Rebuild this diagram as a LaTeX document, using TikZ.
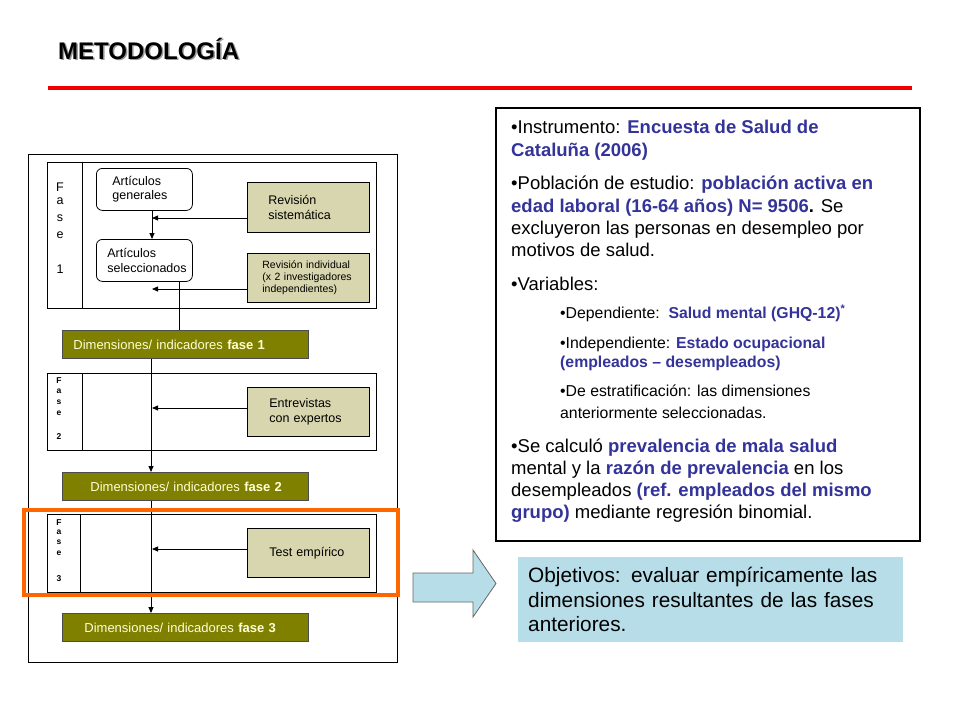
\documentclass[tikz,border=0pt]{standalone}
\usepackage{fontspec}
\setmainfont{Liberation Sans}
\usetikzlibrary{arrows.meta}
\definecolor{txtblue}{RGB}{51,51,153}
\definecolor{olivebox}{RGB}{128,128,0}
\definecolor{khaki}{RGB}{216,214,174}
\definecolor{creamtxt}{RGB}{255,255,214}
\definecolor{lightcyan}{RGB}{183,221,232}
\definecolor{orangeframe}{RGB}{255,102,0}
\definecolor{redline}{RGB}{240,0,0}
\newcommand\bl[1]{{\bfseries\color{txtblue}#1}}
\tikzset{
  arr/.style={-{Triangle[length=6pt,width=5pt]}, line width=0.8pt},
  plain/.style={line width=0.8pt},
  phasebox/.style={draw, line width=0.8pt, anchor=north west, inner sep=0pt},
  kbox/.style={draw, fill=khaki, line width=0.8pt, anchor=north west, inner xsep=0pt, inner ysep=0pt, align=left, font=\fontsize{12.5}{14.5}\selectfont},
  rbox/.style={draw, rounded corners=6pt, fill=white, line width=0.8pt, anchor=north west, inner xsep=0pt, inner ysep=0pt, align=left, font=\fontsize{12.5}{14.5}\selectfont},
  dimbox/.style={draw=black!70, fill=olivebox, line width=0.8pt, anchor=north west, minimum width=246pt, minimum height=28pt, text width=246pt, inner xsep=0pt, inner ysep=0pt, align=left, text=creamtxt, font=\fontsize{13}{15}\selectfont},
  phl/.style={inner sep=0pt, font=\fontsize{12.5}{12.5}\selectfont},
  phs/.style={inner sep=0pt, font=\fontsize{8.5}{8.5}\bfseries},
  tl/.style={anchor=base west, inner sep=0pt, font=\fontsize{18.5}{21}\selectfont},
  ts/.style={anchor=base west, inner sep=0pt, font=\fontsize{15.8}{18}\selectfont},
}
\begin{document}
\begin{tikzpicture}[x=1pt,y=-1pt]
\useasboundingbox (0,0) rectangle (960,720);

% title
\node[anchor=base west, inner sep=0pt, text=black!40, font=\fontsize{24}{24}\selectfont\bfseries] (titleshadow) at (59.5,60.5) {METODOLOGÍA};
\node[anchor=base west, inner sep=0pt, font=\fontsize{24}{24}\selectfont\bfseries] (title) at (58,59) {METODOLOGÍA};
\draw[redline, line width=4pt] (48,88) -- (912,88);

% left frame
\node[phasebox, minimum width=369pt, minimum height=508pt] (frame) at (28,154) {};

% phase 1
\node[phasebox, minimum width=329pt, minimum height=146pt] (p1) at (47,162) {};
\draw[plain] (82,162) -- (82,308);
\foreach \t/\yy [count=\i] in {F/187,a/201,s/218,e/235,1/269}
  \node[phl] (p1l\i) at (60,\yy) {\t};

\node[rbox, minimum width=96pt, minimum height=42pt, text width=96pt] (gen) at (96,168) {\hspace*{16pt}Artículos\\\hspace*{16pt}generales};
\node[rbox, minimum width=96pt, minimum height=42pt, text width=96pt] (sel) at (96,239) {\hspace*{11pt}Artículos\\\hspace*{11pt}seleccionados};
\node[kbox, minimum width=122pt, minimum height=50pt, text width=122pt] (rs) at (247,182) {\hspace*{21pt}Revisión\\\hspace*{21pt}sistemática};
\node[kbox, minimum width=122pt, minimum height=49pt, text width=122pt, font=\fontsize{10.5}{12}\selectfont] (ri) at (247,253) {\hspace*{15pt}Revisión individual\\\hspace*{15pt}(x 2 investigadores\\\hspace*{15pt}independientes)};

\coordinate (a1) at (152,218);
\coordinate (a2) at (152,289);
\draw[arr] (gen.south -| a1) -- (sel.north -| a1);
\draw[arr] (rs.west |- a1) -- (a1);
\draw[arr] (ri.west |- a2) -- (a2);

\node[dimbox] (dim1) at (62,330) {\hspace*{11pt}Dimensiones/ indicadores \textbf{fase 1}};
\coordinate (s1) at (179,0);
\draw[plain] (sel.south -| s1) -- (dim1.north -| s1);

% phase 2
\node[phasebox, minimum width=329pt, minimum height=77pt] (p2) at (47,373) {};
\draw[plain] (82,373) -- (82,450);
\foreach \t/\yy [count=\i] in {F/381,a/391,s/402,e/413,2/437}
  \node[phs] (p2l\i) at (59,\yy) {\t};
\node[kbox, minimum width=122pt, minimum height=49pt, text width=122pt] (ent) at (247,387) {\hspace*{22pt}Entrevistas\\\hspace*{22pt}con expertos};
\coordinate (a3) at (152,408);
\draw[arr] (ent.west |- a3) -- (a3);

\node[dimbox] (dim2) at (62,472) {\hspace*{28pt}Dimensiones/ indicadores \textbf{fase 2}};
\coordinate (v) at (151,0);
\draw[arr] (dim1.south -| v) -- (dim2.north -| v);

% phase 3
\node[phasebox, minimum width=329pt, minimum height=78pt] (p3) at (47,514) {};
\draw[plain] (80,514) -- (80,592);
\foreach \t/\yy [count=\i] in {F/523,a/532,s/542,e/553,3/579}
  \node[phs] (p3l\i) at (59,\yy) {\t};
\node[kbox, minimum width=122pt, minimum height=49pt, text width=122pt] (test) at (247,528) {\hspace*{22pt}Test empírico};
\coordinate (a4) at (152,549);
\draw[arr] (test.west |- a4) -- (a4);

\node[dimbox] (dim3) at (62,613) {\hspace*{22pt}Dimensiones/ indicadores \textbf{fase 3}};
\draw[arr] (dim2.south -| v) -- (dim3.north -| v);

% orange highlight
\draw[orangeframe, line width=4pt] (24,510) rectangle (398,595);

% info box
\node[draw, line width=1.6pt, anchor=north west, inner sep=0pt, minimum width=424pt, minimum height=433pt] (info) at (495,107) {};
\node[tl] (l1) at (511,133) {•Instrumento: \bl{Encuesta de Salud de}};
\node[tl] (l2) at (511,156) {\bl{Cataluña (2006)}};
\node[tl] (l3) at (511,189) {•Población de estudio: \bl{población activa en}};
\node[tl] (l4) at (511,212) {\bl{edad laboral (16-64 años) N= 9506}\textbf{.} Se};
\node[tl] (l5) at (511,234) {excluyeron las personas en desempleo por};
\node[tl] (l6) at (511,256) {motivos de salud.};
\node[tl] (l7) at (511,290) {•Variables:};
\node[ts] (l8) at (560,318) {•Dependiente:\ \ \bl{Salud mental (GHQ-12)\textsuperscript{*}}};
\node[ts] (l9) at (560,348) {•Independiente: \bl{Estado ocupacional}};
\node[ts] (l10) at (560,367) {\bl{(empleados – desempleados)}};
\node[ts] (l11) at (560,396) {•De estratificación: las dimensiones};
\node[ts] (l12) at (560,418) {anteriormente seleccionadas.};
\node[tl] (l13) at (511,452) {•Se calculó \bl{prevalencia de mala salud}};
\node[tl] (l14) at (511,474) {mental y la \bl{razón de prevalencia} en los};
\node[tl] (l15) at (511,496) {desempleados \bl{(ref. empleados del mismo}};
\node[tl] (l16) at (511,518) {\bl{grupo)} mediante regresión binomial.};

% block arrow
\draw[fill=lightcyan, draw=black!60, line width=0.8pt] (413,573) -- (473,573) -- (473,550) -- (496,583.5) -- (473,617) -- (473,602) -- (413,602) -- cycle;

% objectives
\node[fill=lightcyan, anchor=north west, inner xsep=0pt, inner ysep=0pt, minimum width=385pt, minimum height=85pt, text width=385pt, align=left, font=\fontsize{20.8}{24.5}\selectfont] (obj) at (518,557) {\hspace*{10pt}Objetivos: evaluar empíricamente las\\\hspace*{10pt}dimensiones resultantes de las fases\\\hspace*{10pt}anteriores.};
\end{tikzpicture}
\end{document}
